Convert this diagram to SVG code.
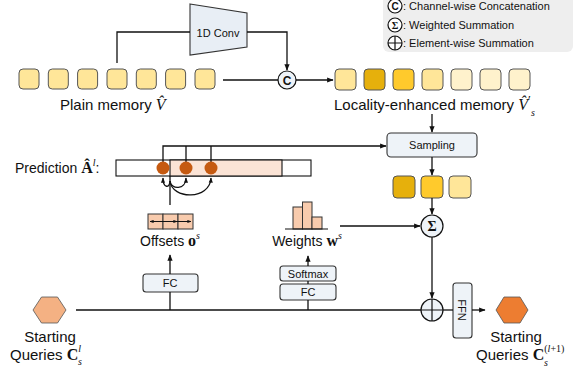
<svg xmlns="http://www.w3.org/2000/svg" width="581" height="370" viewBox="0 0 581 370">
<defs>
<marker id="ah" viewBox="0 0 10 10" refX="9" refY="5" markerWidth="5" markerHeight="5" orient="auto-start-reverse"><path d="M0,1 L10,5 L0,9 z" fill="#111"/></marker>
<marker id="ahs" viewBox="0 0 10 10" refX="9" refY="5" markerWidth="4" markerHeight="4" orient="auto-start-reverse"><path d="M0,1 L10,5 L0,9 z" fill="#111"/></marker>
<style>
.t{font-family:"Liberation Sans",Arial,sans-serif;fill:#111}
.m{font-family:"Liberation Serif","Times New Roman",serif;fill:#111}
.ln{fill:none;stroke:#111;stroke-width:1.3}
.mem{stroke:#555;stroke-width:1}
.blk{fill:#EEF3F8;stroke:#333;stroke-width:1.1}
.pe{fill:#F8CBAD;stroke:#333;stroke-width:1}
.op{fill:#EEF3F8;stroke:#111;stroke-width:1.2}
</style>
</defs>

<g id="legend">
<rect x="383" y="-6" width="190" height="58" rx="6" fill="#EEEEEE"/>
<circle cx="395" cy="6" r="7" fill="#fff" stroke="#111" stroke-width="1.2"/>
<text class="t" x="395" y="10" font-size="10" font-weight="bold" text-anchor="middle">C</text>
<text class="t" x="403" y="10" font-size="11">: Channel-wise Concatenation</text>
<circle cx="395" cy="25" r="7" fill="#fff" stroke="#111" stroke-width="1.2"/>
<text class="m" x="395" y="29" font-size="10" font-weight="bold" text-anchor="middle">Σ</text>
<text class="t" x="403" y="29" font-size="11">: Weighted Summation</text>
<circle cx="395" cy="43" r="7" fill="#fff" stroke="#111" stroke-width="1.2"/>
<path d="M388,43 H402 M395,36 V50" stroke="#111" stroke-width="1.2"/>
<text class="t" x="403" y="47" font-size="11">: Element-wise Summation</text>
</g>

<g id="conv">
<path d="M190,4 L247,13 L247,47 L190,55 Z" fill="#E8EEF5" stroke="#333" stroke-width="1.1"/>
<text class="t" x="218" y="37" font-size="11" text-anchor="middle">1D Conv</text>
</g>

<g id="plain-memory">
<rect class="mem" x="19" y="69" width="20" height="20" rx="4" fill="#FFE699"/>
<rect class="mem" x="48.3" y="69" width="20" height="20" rx="4" fill="#FFE699"/>
<rect class="mem" x="77.6" y="69" width="20" height="20" rx="4" fill="#FFE699"/>
<rect class="mem" x="107" y="69" width="20" height="20" rx="4" fill="#FFE699"/>
<rect class="mem" x="136.3" y="69" width="20" height="20" rx="4" fill="#FFE699"/>
<rect class="mem" x="165.6" y="69" width="20" height="20" rx="4" fill="#FFE699"/>
<rect class="mem" x="195" y="69" width="20" height="20" rx="4" fill="#FFE699"/>
<text class="t" x="60" y="110" font-size="15">Plain memory <tspan class="m" font-style="italic" font-size="16">V̂</tspan></text>
</g>

<g id="concat">
<circle class="op" cx="287" cy="80" r="9" fill="#fff"/>
<text class="t" x="287" y="84.5" font-size="12" font-weight="bold" text-anchor="middle">C</text>
</g>

<g id="enhanced-memory">
<rect class="mem" x="335" y="69" width="21" height="21" rx="4" fill="#FFE699"/>
<rect class="mem" x="364" y="69" width="21" height="21" rx="4" fill="#E6B00C"/>
<rect class="mem" x="393" y="69" width="21" height="21" rx="4" fill="#FFCA2C"/>
<rect class="mem" x="422" y="69" width="21" height="21" rx="4" fill="#FFE699"/>
<rect class="mem" x="451" y="69" width="21" height="21" rx="4" fill="#FFF2CC"/>
<rect class="mem" x="480" y="69" width="21" height="21" rx="4" fill="#FFF2CC"/>
<rect class="mem" x="509" y="69" width="21" height="21" rx="4" fill="#FFF2CC"/>
<text class="t" x="334" y="110" font-size="15">Locality-enhanced memory <tspan class="m" font-style="italic" font-size="16">V̂</tspan><tspan class="m" font-size="13" dy="-6">′</tspan><tspan class="m" font-style="italic" font-size="10" dy="12">s</tspan></text>
</g>

<g id="sampling">
<rect class="blk" x="387" y="133" width="90" height="24" rx="4"/>
<text class="t" x="432" y="149" font-size="11" text-anchor="middle">Sampling</text>
</g>

<g id="sampled">
<rect class="mem" x="393" y="176" width="22" height="22" rx="4" fill="#E6B00C"/>
<rect class="mem" x="421" y="176" width="22" height="22" rx="4" fill="#FFCA2C"/>
<rect class="mem" x="449" y="176" width="22" height="22" rx="4" fill="#FFE699"/>
</g>

<g id="wsum">
<circle class="op" cx="432" cy="226" r="11"/>
<text class="m" x="432" y="231" font-size="14" font-weight="bold" text-anchor="middle">Σ</text>
</g>

<g id="esum">
<circle class="op" cx="432" cy="310" r="11"/>
<path d="M421,310 H443 M432,299 V321" stroke="#111" stroke-width="1.2"/>
</g>

<g id="ffn">
<rect class="blk" x="453" y="283" width="19" height="55" rx="3"/>
<text class="t" x="462" y="310" font-size="11" text-anchor="middle" dominant-baseline="central" transform="rotate(90 462 310)">FFN</text>
</g>

<g id="prediction">
<text class="t" x="15" y="173" font-size="14">Prediction <tspan class="m" font-weight="bold" font-size="16">Â</tspan><tspan class="m" font-style="italic" font-size="10" dy="-7">l</tspan><tspan dy="7">:</tspan></text>
<rect x="116" y="160" width="195" height="16" fill="#fff" stroke="#111" stroke-width="1.1"/>
<rect x="170" y="160" width="112" height="16" fill="#FBE3D5" stroke="#111" stroke-width="1.1"/>
</g>

<g id="offsets">
<rect class="pe" x="148" y="214" width="15" height="15"/>
<rect class="pe" x="163" y="214" width="15" height="15"/>
<rect class="pe" x="178" y="214" width="15" height="15"/>
<path d="M150,221.5 H191" stroke="#111" stroke-width="1" marker-start="url(#ahs)" marker-end="url(#ahs)"/>
<path d="M163,221.5 H177" stroke="#111" stroke-width="1" marker-end="url(#ahs)"/>
<text class="t" x="170" y="246" font-size="14" text-anchor="middle">Offsets <tspan class="m" font-weight="bold" font-size="16">o</tspan><tspan class="m" font-style="italic" font-size="10" dy="-7">s</tspan></text>
</g>

<g id="weights">
<rect class="pe" x="293" y="207" width="9.5" height="22"/>
<rect class="pe" x="302.5" y="202" width="9.5" height="27"/>
<rect class="pe" x="312" y="217" width="10" height="12"/>
<path d="M285,229 H328" stroke="#111" stroke-width="1.1"/>
<text class="t" x="307" y="246" font-size="14" text-anchor="middle">Weights <tspan class="m" font-weight="bold" font-size="16">w</tspan><tspan class="m" font-style="italic" font-size="10" dy="-7">s</tspan></text>
</g>

<g id="fc-offsets">
<rect class="blk" x="143" y="274" width="55" height="18" rx="3"/>
<text class="t" x="170" y="287" font-size="11" text-anchor="middle">FC</text>
</g>

<g id="fc-weights">
<rect class="blk" x="280" y="284" width="56" height="16" rx="3"/>
<text class="t" x="308" y="296" font-size="11" text-anchor="middle">FC</text>
</g>

<g id="softmax">
<rect class="blk" x="280" y="266" width="56" height="15" rx="3"/>
<text class="t" x="308" y="277.5" font-size="11" text-anchor="middle">Softmax</text>
</g>

<g id="query-in">
<polygon points="33,310 41.5,297 57.5,297 66,310 57.5,323 41.5,323" fill="#F4B183" stroke="#555" stroke-width="0.8"/>
<text class="t" x="50" y="342" font-size="15" text-anchor="middle">Starting</text>
<text class="t" x="10" y="360" font-size="15">Queries <tspan class="m" font-weight="bold" font-size="16">C</tspan><tspan class="m" font-style="italic" font-size="10" dy="-8">l</tspan><tspan class="m" font-style="italic" font-size="10" dx="-3" dy="13">s</tspan></text>
</g>

<g id="query-out">
<polygon points="496,310 504,297 520,297 528,310 520,323 504,323" fill="#ED7D31" stroke="#555" stroke-width="0.8"/>
<text class="t" x="516" y="342" font-size="15" text-anchor="middle">Starting</text>
<text class="t" x="476" y="360" font-size="15">Queries <tspan class="m" font-weight="bold" font-size="16">C</tspan><tspan class="m" font-size="10" dy="-8">(<tspan font-style="italic">l</tspan>+1)</tspan></text>
<text class="m" x="544" y="366" font-size="10" font-style="italic">s</text>
</g>

<g id="connectors">
<path class="ln" d="M117,63 V32 H190"/>
<path class="ln" d="M247,32 H287 V70" marker-end="url(#ah)"/>
<path class="ln" d="M223,80 H278"/>
<path class="ln" d="M296,80 H333" marker-end="url(#ah)"/>
<path class="ln" d="M432,114 V132" marker-end="url(#ah)"/>
<path class="ln" d="M163,168 V146 H386" marker-end="url(#ah)"/>
<path class="ln" d="M186,168 V146 M211,168 V146"/>
<path class="ln" d="M432,157 V175" marker-end="url(#ah)"/>
<path class="ln" d="M432,198 V214" marker-end="url(#ah)"/>
<path class="ln" d="M340,226 H420" marker-end="url(#ah)"/>
<path class="ln" d="M432,237 V298" marker-end="url(#ah)"/>
<path class="ln" d="M76,310 H421"/>
<path class="ln" d="M443,310 H453"/>
<path class="ln" d="M472,310 H485" marker-end="url(#ah)"/>
<path class="ln" d="M170,310 V292 M170,274 V255" marker-end="url(#ah)"/>
<path class="ln" d="M308,310 V300 M308,284 V281 M308,266 V256" marker-end="url(#ah)"/>
<path class="ln" d="M170,205 V176"/>
<path class="ln" d="M170,181 C170,188 163,189 163,178" marker-end="url(#ahs)"/>
<path class="ln" d="M170,181 C171,190 186,190 186,178" marker-end="url(#ahs)"/>
<path class="ln" d="M170,181 C172,200 210,200 211,178" marker-end="url(#ahs)"/>
</g>

<g id="dots">
<circle cx="163" cy="168" r="6.5" fill="#C55A11"/>
<circle cx="186" cy="168" r="6.5" fill="#C55A11"/>
<circle cx="211" cy="168" r="6.5" fill="#C55A11"/>
</g>
</svg>
